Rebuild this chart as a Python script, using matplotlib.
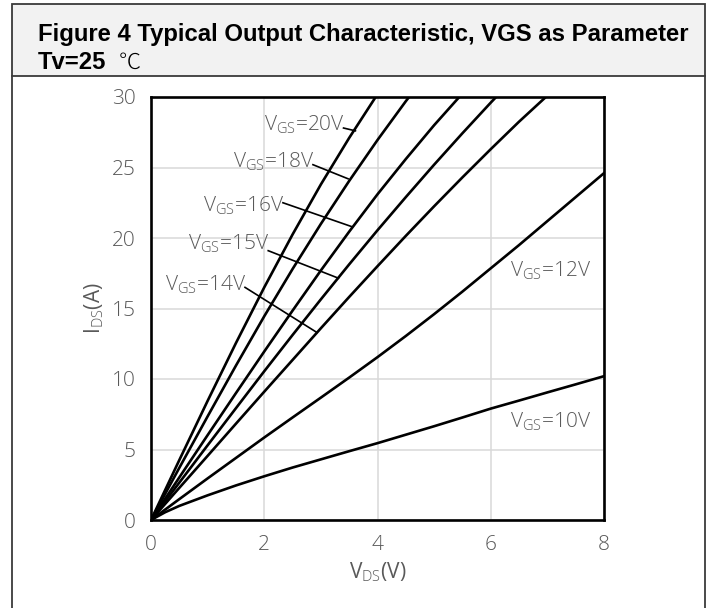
import matplotlib
matplotlib.use("Agg")
import matplotlib.pyplot as plt
from matplotlib.patches import Rectangle
from matplotlib.lines import Line2D

# curves (VDS in V, IDS in A)
vds_20 = [0, 0.5, 1, 1.5, 2, 2.5, 3, 3.5, 4]
ids_20 = [0, 4.25, 8.45, 12.55, 16.5, 20.25, 23.8, 27.1, 30.2]
vds_18 = [0, 0.5, 1, 1.5, 2, 2.5, 3, 3.5, 4, 4.5, 5]
ids_18 = [0, 3.7, 7.35, 10.95, 14.45, 17.8, 21.0, 24.05, 26.95, 29.7, 32.3]
vds_16 = [0, 0.5, 1, 1.5, 2, 2.5, 3, 3.5, 4, 4.5, 5, 5.5, 6]
ids_16 = [0, 3.02, 6.02, 9.0, 11.95, 14.85, 17.7, 20.45, 23.1, 25.6, 28.0, 30.25, 32.4]
vds_15 = [0, 0.5, 1, 1.5, 2, 2.5, 3, 3.5, 4, 4.5, 5, 5.5, 6, 6.5, 7]
ids_15 = [0, 2.65, 5.3, 7.93, 10.55, 13.12, 15.65, 18.13, 20.55, 22.9, 25.2,
          27.43, 29.6, 31.7, 33.7]
vds_14 = [0, 0.5, 1, 1.5, 2, 2.5, 3, 3.5, 4, 4.5, 5, 5.5, 6, 6.5, 7, 7.5]
ids_14 = [0, 2.28, 4.55, 6.83, 9.1, 11.35, 13.6, 15.82, 18.0, 20.15, 22.25,
          24.3, 26.3, 28.25, 30.1, 31.9]
vds_12 = [0, 0.5, 1, 1.5, 2, 2.5, 3, 3.5, 4, 4.5, 5, 5.5, 6, 6.5, 7, 7.5, 8]
ids_12 = [0, 1.48, 2.95, 4.4, 5.85, 7.27, 8.68, 10.1, 11.55, 13.05, 14.6,
          16.2, 17.85, 19.5, 21.2, 22.9, 24.6]
vds_10 = [0, 0.25, 0.5, 1, 1.5, 2, 2.5, 3, 3.5, 4, 4.5, 5, 5.5, 6, 6.5, 7, 7.5, 8]
ids_10 = [0, 0.55, 1.0, 1.75, 2.45, 3.1, 3.72, 4.3, 4.88, 5.45, 6.05, 6.65,
          7.27, 7.9, 8.47, 9.05, 9.62, 10.2]

# callouts with leader lines
lead_names = ["20", "18", "16", "15", "14"]
lead_x0 = [3.40, 2.86, 2.33, 2.07, 1.66]
lead_y0 = [27.8, 25.2, 22.5, 19.1, 16.5]
lead_x1 = [3.61, 3.48, 3.55, 3.31, 2.93]
lead_y1 = [27.6, 24.2, 20.8, 17.15, 13.3]
label_y = [28.0, 25.4, 22.3, 19.6, 16.7]

# plain labels on the right
right_names = ["12", "10"]
right_x = [7.78, 7.78]
right_y = [17.7, 6.95]

x_ticks = [0, 2, 4, 6, 8]
y_ticks = [0, 5, 10, 15, 20, 25, 30]

plt.rcParams['font.family'] = ['Open Sans', 'DejaVu Sans']
plt.rcParams['font.weight'] = 'light'
plt.rcParams['mathtext.fontset'] = 'custom'
plt.rcParams['mathtext.rm'] = 'Open Sans:light'

W, H = 708, 608
fig = plt.figure(figsize=(W / 100, H / 100), dpi=100)


def fx(px):
    return px / W


def fy(py):
    return 1 - py / H


frame = '#3a3a3a'
fig.add_artist(Rectangle((fx(12), fy(76)), fx(705) - fx(12), fy(4) - fy(76),
                         facecolor='#f2f2f2', edgecolor=frame, lw=1.3,
                         transform=fig.transFigure))
fig.add_artist(Line2D([fx(12), fx(12)], [fy(76), 0], color=frame, lw=1.3,
                      transform=fig.transFigure))
fig.add_artist(Line2D([fx(705), fx(705)], [fy(76), 0], color=frame, lw=1.3,
                      transform=fig.transFigure))

fig.text(fx(38), fy(41), "Figure 4 Typical Output Characteristic, VGS as Parameter",
         family='Liberation Sans', fontweight='bold', fontsize=17.2,
         va='baseline', color='black')
fig.text(fx(38), fy(69), "Tv=25", family='Liberation Sans', fontweight='bold',
         fontsize=17.2, va='baseline', color='black')
fig.text(fx(119), fy(69), "℃", family=['Noto Sans CJK JP', 'DejaVu Sans'],
         fontweight='light', fontsize=16, va='baseline', color='black')

ax = fig.add_axes([fx(151), fy(520), (604 - 151) / W, (520 - 97) / H])

curves = [(vds_20, ids_20), (vds_18, ids_18), (vds_16, ids_16), (vds_15, ids_15),
          (vds_14, ids_14), (vds_12, ids_12), (vds_10, ids_10)]
for xs, ys in curves:
    ax.plot(xs, ys, color='black', lw=1.9, solid_joinstyle='round')

gray = '#595959'
for name, x0, y0, x1, y1, ly in zip(lead_names, lead_x0, lead_y0, lead_x1, lead_y1, label_y):
    ax.plot([x0, x1], [y0, y1], color='black', lw=1.2)
    ax.text(x0 + 0.02, ly, r"V$_{\mathrm{GS}}$=" + name + "V", ha='right', va='center',
            fontsize=15, color=gray)

for name, x, y in zip(right_names, right_x, right_y):
    ax.text(x, y, r"V$_{\mathrm{GS}}$=" + name + "V", ha='right', va='center',
            fontsize=15, color=gray)

ax.set_xlim(0, 8)
ax.set_ylim(0, 30)
ax.set_xticks(x_ticks)
ax.set_yticks(y_ticks)
ax.grid(True, color='#d9d9d9', lw=1.1)
ax.set_axisbelow(True)
ax.tick_params(length=0, pad=11, labelsize=15, labelcolor=gray)
for s in ax.spines.values():
    s.set_linewidth(1.9)
    s.set_color('black')

ax.set_xlabel(r"V$_{\mathrm{DS}}$(V)", fontsize=15, color=gray, labelpad=4)
ax.set_ylabel(r"I$_{\mathrm{DS}}$(A)", fontsize=15, color=gray, labelpad=4)

fig.savefig("out.png", dpi=100)
